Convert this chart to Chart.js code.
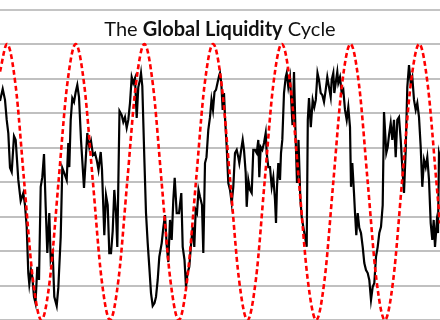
<!DOCTYPE html>
<html>
<head>
<meta charset="utf-8">
<script src="https://cdn.jsdelivr.net/npm/chart.js@4"></script>
<style>
  html, body { margin: 0; padding: 0; background: #fff; }
  #wrap { position: relative; width: 440px; height: 320px; }
  #title {
    position: absolute; left: 0; top: 9px; width: 440px; height: 34px;
    border-top: 2px solid #c4c4c4;
    font-family: Lato, "Noto Sans", sans-serif; font-size: 20px;
    text-align: center; line-height: 34px; color: #111;
  }
</style>
</head>
<body>
<div id="wrap">
  <div id="title">The <b>Global Liquidity</b> Cycle</div>
  <canvas id="liqChart" width="440" height="320"></canvas>
</div>
<script>
"use strict";

// time index (horizontal position along the cycle)
var liqT = [0, 2.7, 5, 6.7, 8.3, 10, 11.7, 14, 15.7, 18.3, 20.7, 23.3, 25, 26.7, 28.3, 29.3, 31, 32.3, 34, 35.5,
  37.3, 39, 40.7, 42.3, 44, 45.7, 47.3, 49.3, 50.7, 52.7, 54.3, 56.7, 58.3, 60.7, 62.3, 64.3, 66.7, 68.3, 69.3, 70.7,
  72.3, 74, 75.7, 77.3, 79, 81, 84, 85.7, 87.3, 89.3, 91, 93, 95, 96.7, 98.5, 100.7, 102, 104.3, 106, 107.7,
  109.3, 111, 112.7, 114.3, 116, 117.3, 119.5, 121.7, 123.3, 125, 126.7, 128.3, 130, 131.7, 133.3, 135, 136.7, 138.3, 140, 141,
  142.3, 144.3, 146, 147.7, 149.3, 151, 152.7, 154.5, 156, 157.7, 159.3, 161.7, 163.3, 165, 166.7, 168.3, 170, 171.7, 173.3, 174.7,
  176.7, 179, 181.3, 182.7, 184.5, 186, 187.5, 189.3, 191, 192.7, 194.3, 195.7, 197, 198.5, 200, 202, 203.3, 205, 206.5, 208.3,
  210, 211.5, 213, 214.5, 216, 217.7, 219.3, 220, 221.3, 222.7, 224, 225, 226.7, 228.3, 230, 231.7, 233.3, 235, 236.7, 238.3,
  239.3, 240.7, 242.7, 244, 245.7, 246.7, 248.3, 250, 251.7, 253.3, 255, 256.7, 258.3, 259.3, 260.7, 262.3, 264, 265.7, 266.7, 268.3,
  270, 271.7, 273.3, 275, 276, 277, 278.3, 280, 281, 282.3, 284, 285.7, 286.7, 288.3, 290, 292.5, 294, 295.7, 297, 298.5,
  300.3, 301.7, 303.3, 305, 306.7, 307.8, 309, 310.8, 312.7, 314.3, 315.8, 317.5, 319, 320.7, 322.3, 324, 325.7, 327.3, 329, 330.7,
  331.7, 333.3, 334.3, 335.7, 337.3, 338.3, 340, 341.7, 343.3, 345, 346.7, 348.3, 350, 351, 352.3, 354, 355, 356.3, 357.7, 359.3,
  361, 362.7, 364.3, 366, 367.7, 369.3, 371, 372.7, 374.3, 376, 377.7, 379.3, 381, 382.7, 384, 385.3, 386.3, 387.7, 389, 390.7,
  392.3, 394, 395.7, 397.3, 399, 400.7, 402.3, 404, 405.7, 407.3, 409, 410.7, 412.3, 414, 415.7, 417.3, 419, 420.7, 422.3, 424,
  425.7, 427.3, 429, 430.7, 432.3, 433.7, 435, 436.7, 438, 439, 440];

// global liquidity index (black line)
var liqIndex = [63.5, 67.0, 63.8, 58.0, 54.2, 44.1, 42.9, 53.3, 52.2, 40.6, 34.5, 36.8, 33.3, 27.0, 13.6, 10.4, 14.5, 12.5, 6.7, 4.9,
  15.4, 11.6, 38.6, 41.4, 48.1, 32.8, 19.4, 31.0, 17.4, 19.4, 6.7, 4.1, 9.3, 24.1, 44.1, 42.6, 40.6, 51.3, 44.3, 58.0,
  64.3, 63.2, 66.1, 68.1, 64.6, 52.2, 38.3, 46.4, 54.2, 50.1, 51.9, 47.8, 48.4, 46.4, 43.5, 48.7, 43.5, 24.6, 36.2, 33.3,
  19.4, 19.4, 25.8, 37.7, 31.0, 21.2, 60.6, 59.4, 57.4, 58.8, 55.7, 58.0, 62.9, 70.4, 68.7, 70.1, 58.6, 67.5, 69.6, 71.6,
  67.8, 47.2, 31.0, 22.3, 15.4, 7.8, 4.1, 4.9, 6.7, 11.6, 18.3, 22.3, 26.7, 30.4, 21.7, 16.8, 29.0, 23.2, 34.8, 41.2,
  31.0, 31.0, 36.8, 21.2, 17.4, 9.6, 13.6, 15.4, 21.7, 27.0, 21.2, 31.9, 31.0, 37.7, 35.7, 33.3, 19.4, 45.5, 47.2, 55.1,
  58.8, 63.8, 60.9, 66.1, 66.7, 69.0, 71.0, 71.6, 68.7, 60.9, 65.8, 58.8, 50.1, 39.7, 37.7, 33.9, 38.6, 48.4, 49.3, 47.2,
  45.5, 48.4, 52.2, 49.3, 42.6, 32.8, 40.6, 37.7, 36.8, 49.3, 49.3, 48.4, 52.2, 41.4, 50.1, 49.3, 51.3, 54.2, 48.4, 44.3,
  44.3, 38.6, 41.4, 34.8, 28.1, 38.6, 45.5, 40.6, 48.4, 52.2, 65.8, 70.4, 71.6, 67.5, 70.4, 56.5, 71.9, 52.2, 39.7, 52.2,
  35.4, 29.9, 27.0, 24.1, 21.2, 58.0, 64.3, 55.9, 63.8, 61.7, 63.8, 71.6, 69.6, 65.8, 65.2, 63.2, 66.7, 70.4, 67.5, 64.6,
  69.6, 71.6, 65.8, 68.7, 71.9, 68.7, 70.4, 65.8, 66.7, 60.9, 58.0, 61.7, 55.9, 38.6, 45.5, 36.8, 31.0, 24.6, 31.0, 26.7,
  25.2, 21.2, 16.5, 14.5, 13.6, 11.6, 5.8, 9.6, 10.7, 18.3, 21.2, 25.2, 27.0, 33.3, 60.3, 53.6, 48.4, 50.1, 53.6, 57.1,
  52.2, 58.0, 47.2, 58.0, 58.8, 52.2, 44.3, 36.8, 49.3, 67.5, 73.9, 68.7, 70.4, 63.8, 60.9, 62.9, 58.8, 50.1, 38.6, 46.4,
  44.3, 47.2, 40.6, 28.1, 23.2, 29.0, 21.2, 28.1, 25.2, 48.4, 47.2];

// idealised cycle (red dashed line): peaks, troughs and points between
var cycleT = [0, 7, 15.6, 24.2, 32.8, 41.4, 50, 58.5, 67.1,
  75.7, 84.3, 92.9, 101.5, 110, 118.6, 127.2, 135.8,
  144.4, 153, 161.6, 170.2, 178.8, 187.3, 195.9, 204.5,
  213.1, 221.7, 230.3, 238.9, 247.5, 256, 264.6, 273.2,
  281.8, 290.4, 299, 307.6, 316.2, 324.7, 333.3, 341.9,
  350.5, 359.1, 367.7, 376.3, 384.9, 393.4, 402, 410.6,
  419.2, 427.8, 436.4, 440];
var cycleV = [72, 80, 68, 40, 12, 0, 12, 40, 68,
  80, 68, 40, 12, 0, 12, 40, 68,
  80, 68, 40, 12, 0, 12, 40, 68,
  80, 68, 40, 12, 0, 12, 40, 68,
  80, 68, 40, 12, 0, 12, 40, 68,
  80, 68, 40, 12, 0, 12, 40, 68,
  80, 68, 40, 28];

var yTicks = [0, 10, 20, 30, 40, 50, 60, 70, 80];

function pairs(xs, ys) {
  return xs.map(function (x, i) { return { x: x, y: ys[i] }; });
}

var ctx = document.getElementById("liqChart").getContext("2d");
new Chart(ctx, {
  type: 'line',
  data: {
    datasets: [{
      label: 'Cycle',
      data: pairs(cycleT, cycleV),
      borderColor: '#ff0000',
      borderWidth: 2.6,
      borderDash: [5, 3],
      pointRadius: 0,
      cubicInterpolationMode: 'monotone',
      clip: false,
      fill: false
    }, {
      label: 'Global Liquidity',
      data: pairs(liqT, liqIndex),
      borderColor: '#000000',
      borderWidth: 2.2,
      pointRadius: 0,
      tension: 0,
      fill: false
    }]
  },
  options: {
    responsive: false,
    animation: false,
    layout: { padding: { top: 44, left: 0, right: 0, bottom: 0 } },
    plugins: { legend: { display: false }, tooltip: { enabled: false }, title: { display: false } },
    scales: {
      x: { type: 'linear', min: 0, max: 440, display: false },
      y: {
        min: yTicks[0], max: yTicks[yTicks.length - 1],
        afterBuildTicks: function (axis) { axis.ticks = yTicks.map(function (v) { return { value: v }; }); },
        ticks: { display: false },
        border: { display: false },
        grid: { color: '#c0c0c0', lineWidth: 2, drawTicks: false }
      }
    }
  }
});
</script>
</body>
</html>
